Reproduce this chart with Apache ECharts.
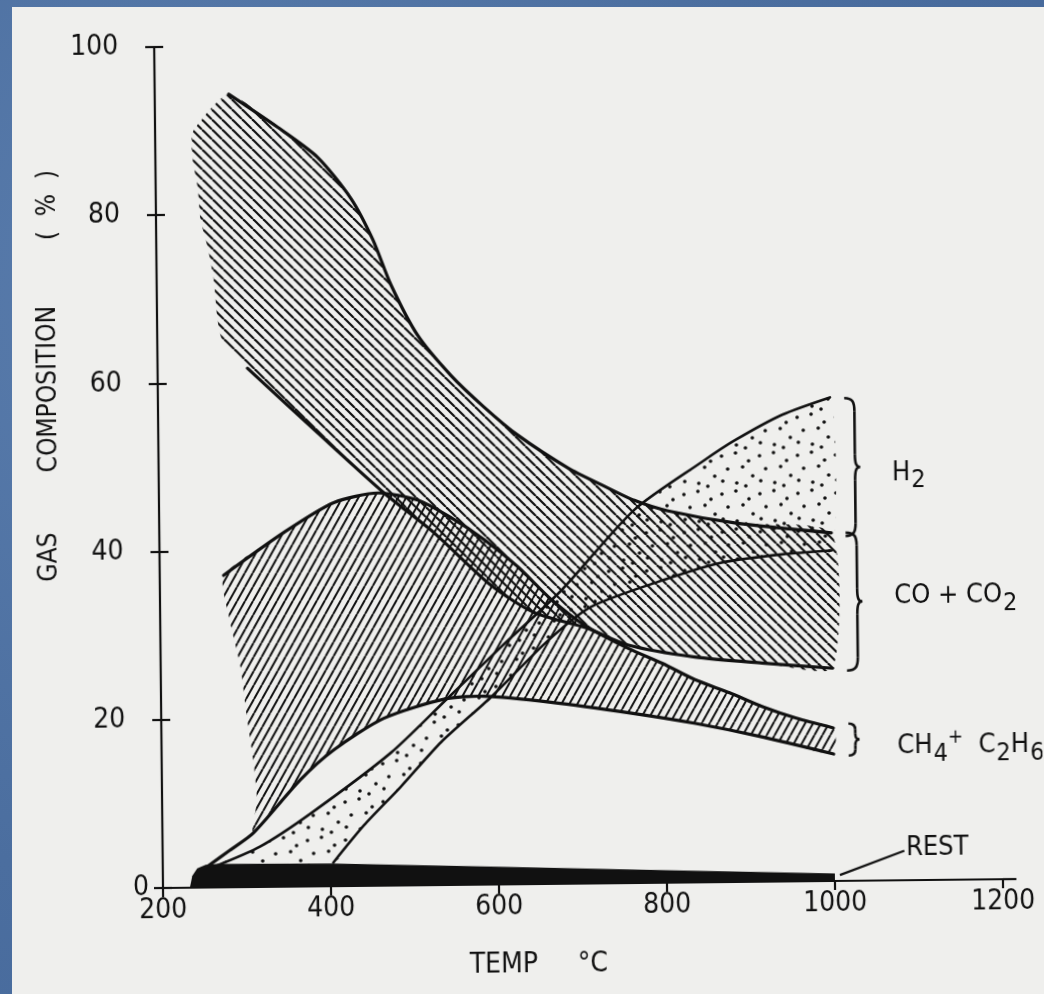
<!DOCTYPE html>
<html>
<head>
<meta charset="utf-8">
<title>Gas composition vs temperature</title>
<script src="https://cdn.jsdelivr.net/npm/echarts@6.0.0/dist/echarts.min.js"></script>
<style>
  html, body { margin:0; padding:0; width:1044px; height:994px; overflow:hidden;
    background: radial-gradient(circle at 20% 30%, #5a7dad 0%, #4b6e9f 55%, #44679a 100%); }
  #paper { position:absolute; left:12px; top:7px; right:0; bottom:0; background:#efefed; }
  #chart { position:absolute; left:0; top:0; width:1044px; height:994px;
    transform-origin:163px 888px; transform:rotate(-0.6deg); }
</style>
</head>
<body>
<div id="paper"></div>
<div id="chart"></div>
<script>
// ---------------- data: [temperature °C, gas composition %] ----------------
const xTicks = [200, 400, 600, 800, 1000, 1200];
const yTicks = [0, 20, 40, 60, 80, 100];

// CO + CO2 band
const coTop = [[288,94.3],[346,90.3],[393,86.7],[432,81.8],[458,76.8],[479,71.4],[510,65.4],[549,60.6],[588,56.8],[628,53.4],[688,49.4],[727,47.4],[766,45.5],[806,44.2],[885,42.7],[1000,41.4]];
const coBottom = [[307,61.7],[390,53.9],[468,46.7],[527,41.9],[594,35.6],[645,32.3],[707,30.4],[757,28.3],[836,26.8],[916,26.0],[1000,25.3]];
const coLeftEdge = [[277,65.2],[272,67.5],[268,72.2],[261,76.2],[253,79.4],[250,83.3],[244,86.9],[245,89.9]];

// CH4 + C2H6 band
const ch4Top = [[276,37.1],[348,42.1],[408,45.6],[461,46.7],[508,45.8],[547,43.7],[587,41.0],[627,37.7],[666,33.8],[707,30.6],[757,27.9],[797,26.1],[836,24.1],[877,22.5],[916,20.8],[956,19.4],[1000,18.2]];
const ch4Bottom = [[253,2.5],[280,4.4],[308,6.4],[365,12.7],[405,16.2],[465,19.9],[537,22.1],[585,22.4],[664,21.6],[760,20.2],[836,18.9],[916,17.2],[1000,15.1]];
const ch4LeftEdge = [[313,10.4],[309,15.1],[302,20.2],[295,26.2],[282,32.1]];

// H2 band
const h2Upper = [[262,2.5],[316,4.8],[377,8.7],[473,15.8],[539,22.0],[605,28.2],[678,34.9],[766,44.4],[847,50.0],[886,52.5],[943,55.5],[1000,57.5]];
const h2Lower = [[403,2.8],[440,7.2],[484,11.7],[533,17.0],[593,22.3],[662,29.0],[713,32.9],[806,36.2],[869,38.0],[941,38.9],[1000,39.3]];

// REST (black wedge)
const restTop = [[232,0],[235,1.4],[241,2.3],[251,2.7],[265,2.8],[400,2.7],[600,2.1],[800,1.5],[1000,0.9]];

// bracket spans at the right end (composition %)
const h2Span = [57.4, 41.0];
const coSpan = [41.4, 25.0];
const ch4Span = [18.7, 14.9];

// ---------------- styling helpers ----------------
const INK = '#111111';
const FONT = "'Liberation Sans Narrow','Arial Narrow','DejaVu Sans Condensed','Liberation Sans',sans-serif";

function hatch(w, h, lw, dir) {
  const c = document.createElement('canvas');
  c.width = w; c.height = h;
  const g = c.getContext('2d');
  g.strokeStyle = INK; g.lineWidth = lw;
  for (let k = -1; k <= 1; k++) {
    g.beginPath();
    if (dir === '/') { g.moveTo(k * w, h); g.lineTo(k * w + w, 0); }
    else { g.moveTo(k * w, 0); g.lineTo(k * w + w, h); }
    g.stroke();
  }
  return { image: c, repeat: 'repeat' };
}
function dotTile() {
  const s = 38;
  const c = document.createElement('canvas');
  c.width = s; c.height = s;
  const g = c.getContext('2d');
  g.fillStyle = INK;
  [[4,6],[18,3],[31,11],[10,19],[25,17],[35,26],[5,31],[19,33],[28,36]].forEach(p => {
    g.beginPath(); g.arc(p[0], p[1], 1.8, 0, Math.PI * 2); g.fill();
  });
  return { image: c, repeat: 'repeat' };
}
const coFill = hatch(10, 10, 2.2, '\\');
const ch4Fill = hatch(8, 14, 2.0, '/');
const h2Fill = dotTile();

function polygonSeries(name, pts, fill, z, smooth) {
  return {
    type: 'custom', name, coordinateSystem: 'cartesian2d', z, silent: true, clip: false,
    data: [pts[0]],
    renderItem: (params, api) => ({
      type: 'polygon',
      shape: { points: pts.map(p => api.coord(p)), smooth: smooth },
      style: { fill: fill, stroke: null }
    })
  };
}
function curveSeries(name, pts, width, z) {
  return {
    type: 'custom', name, coordinateSystem: 'cartesian2d', z, silent: true, clip: false,
    data: [pts[0]],
    renderItem: (params, api) => ({
      type: 'polyline',
      shape: { points: pts.map(p => api.coord(p)), smooth: 0.25 },
      style: { fill: null, stroke: INK, lineWidth: width, lineJoin: 'round', lineCap: 'round' }
    })
  };
}

const coPoly = coTop.concat(coBottom.slice().reverse(), coLeftEdge);
const ch4Poly = ch4Top.concat(ch4Bottom.filter(p => p[0] >= 308).reverse(), ch4LeftEdge);
const h2Poly = h2Upper.concat(h2Lower.slice().reverse());
const restPoly = restTop.concat([[1000, 0]]);

const chart = echarts.init(document.getElementById('chart'), null, { renderer: 'canvas' });
const step = xTicks[1] - xTicks[0];
const ystep = yTicks[1] - yTicks[0];

chart.setOption({
  animation: false,
  backgroundColor: 'transparent',
  grid: { left: 163, top: 47, width: 840, height: 841, containLabel: false },
  xAxis: {
    type: 'value', min: xTicks[0], max: xTicks[xTicks.length - 1], interval: step,
    axisLine: { lineStyle: { color: INK, width: 2.2 } },
    axisTick: { length: 9, lineStyle: { color: INK, width: 2.2 } },
    axisLabel: { color: INK, fontFamily: FONT, fontSize: 28, margin: 9, formatter: v => String(v) },
    splitLine: { show: false }
  },
  yAxis: [{
    type: 'value', min: yTicks[0], max: yTicks[yTicks.length - 1], interval: ystep,
    axisLine: { show: true, lineStyle: { color: INK, width: 2.2 } },
    axisTick: { length: 9, lineStyle: { color: INK, width: 2.2 } },
    axisLabel: { color: INK, fontFamily: FONT, fontSize: 28, margin: 36,
      formatter: v => (v === 0 ? '' : String(v)) },
    splitLine: { show: false }
  }, {
    type: 'value', min: yTicks[0], max: yTicks[yTicks.length - 1], interval: ystep, position: 'left',
    axisLine: { show: false },
    axisTick: { show: true, inside: true, length: 9, lineStyle: { color: INK, width: 2.2 } },
    axisLabel: { color: INK, fontFamily: FONT, fontSize: 28, margin: 14,
      formatter: v => (v === 0 ? '0' : '') },
    splitLine: { show: false }
  }],
  series: [
    polygonSeries('CO + CO2', coPoly, coFill, 2, 0.2),
    polygonSeries('CH4 + C2H6', ch4Poly, ch4Fill, 2, 0.2),
    polygonSeries('H2', h2Poly, h2Fill, 3, 0.2),
    polygonSeries('REST', restPoly, INK, 4, 0),
    curveSeries('CO + CO2 upper', coTop, 3.2, 5),
    curveSeries('CO + CO2 lower', coBottom, 3.2, 5),
    curveSeries('CH4 + C2H6 upper', ch4Top, 3.2, 5),
    curveSeries('CH4 + C2H6 lower', ch4Bottom, 3.2, 5),
    curveSeries('H2 upper', h2Upper, 2.6, 5),
    curveSeries('H2 lower', h2Lower, 2.6, 5)
  ]
});

// ---------------- annotations ----------------
function px(p) { return chart.convertToPixel({ gridIndex: 0 }, p); }
function brace(T0, Tsp, Ttip, span, r) {
  const x0 = px([T0, 0])[0], xs = px([Tsp, 0])[0], xt = px([Ttip, 0])[0];
  const yT = px([1000, span[0]])[1], yB = px([1000, span[1]])[1];
  const ym = (yT + yB) / 2;
  const st = { stroke: INK, lineWidth: 2.6, fill: null };
  return [
    { type: 'bezierCurve', shape: { x1: x0, y1: yT, cpx1: xs - 2, cpy1: yT, cpx2: xs, cpy2: yT + r * 0.3, x2: xs, y2: yT + r }, style: st, z: 10 },
    { type: 'line', shape: { x1: xs, y1: yT + r, x2: xs, y2: ym - r }, style: st, z: 10 },
    { type: 'bezierCurve', shape: { x1: xs, y1: ym - r, cpx1: xs, cpy1: ym - r * 0.3, cpx2: xs + (xt - xs) * 0.2, cpy2: ym, x2: xt, y2: ym }, style: st, z: 10 },
    { type: 'bezierCurve', shape: { x1: xt, y1: ym, cpx1: xs + (xt - xs) * 0.2, cpy1: ym, cpx2: xs, cpy2: ym + r * 0.3, x2: xs, y2: ym + r }, style: st, z: 10 },
    { type: 'line', shape: { x1: xs, y1: ym + r, x2: xs, y2: yB - r }, style: st, z: 10 },
    { type: 'bezierCurve', shape: { x1: xs, y1: yB - r, cpx1: xs, cpy1: yB - r * 0.3, cpx2: xs - 2, cpy2: yB, x2: x0, y2: yB }, style: st, z: 10 }
  ];
}
const rich = {
  n: { fontFamily: FONT, fontSize: 27, fill: INK, color: INK, verticalAlign: 'top', padding: [5, 0, 0, 0] },
  s: { fontFamily: FONT, fontSize: 25, fill: INK, color: INK, verticalAlign: 'top', padding: [14, 0, 0, 1] },
  p: { fontFamily: FONT, fontSize: 20, fill: INK, color: INK, verticalAlign: 'top', padding: [0, 0, 0, 0] }
};
function label(pos, text, dy) {
  const p = px(pos);
  return { type: 'text', x: p[0], y: p[1] + (dy || 0), z: 10,
    style: { text: text, rich: rich, fontFamily: FONT, fontSize: 27, fill: INK, align: 'left', verticalAlign: 'middle' } };
}
const a0 = px([xTicks[xTicks.length - 1], 0]);
const a1 = px([1216, 0]);
const lead0 = px([1006, 0.7]), lead1 = px([1083, 3.5]);
const restPos = px([1085, 3.8]);

const graphics = [].concat(
  brace(1017, 1029, 1035, h2Span, 13),
  brace(1017, 1030, 1036, coSpan, 13),
  brace(1018, 1026, 1031, ch4Span, 6),
  [
    label([1073, 48.9], '{n|H}{s|2}', 5),
    label([1074, 34.2], '{n|CO + CO}{s|2}', 5),
    label([1076, 16.4], '{n|CH}{s|4}{p|+}{n|  C}{s|2}{n|H}{s|6}', 5),
    { type: 'text', x: restPos[0], y: restPos[1], z: 10,
      style: { text: 'REST', fontFamily: FONT, fontSize: 27, fill: INK, align: 'left', verticalAlign: 'middle' } },
    { type: 'line', shape: { x1: lead0[0], y1: lead0[1], x2: lead1[0], y2: lead1[1] }, style: { stroke: INK, lineWidth: 2.2 }, z: 10 },
    { type: 'line', shape: { x1: a0[0], y1: a0[1], x2: a1[0], y2: a1[1] }, style: { stroke: INK, lineWidth: 2.2 }, z: 10 },
    { type: 'text', x: 503, y: 969, z: 10,
      style: { text: 'TEMP', fontFamily: FONT, fontSize: 28, fill: INK, align: 'center', verticalAlign: 'middle' } },
    { type: 'text', x: 592, y: 969, z: 10,
      style: { text: '°C', fontFamily: FONT, fontSize: 28, fill: INK, align: 'center', verticalAlign: 'middle' } },
    { type: 'text', x: 53, y: 556, rotation: Math.PI / 2, z: 10,
      style: { text: 'GAS', fontFamily: FONT, fontSize: 26, fill: INK, align: 'center', verticalAlign: 'middle' } },
    { type: 'text', x: 54, y: 388, rotation: Math.PI / 2, z: 10,
      style: { text: 'COMPOSITION', fontFamily: FONT, fontSize: 26, fill: INK, align: 'center', verticalAlign: 'middle' } },
    { type: 'text', x: 55, y: 204, rotation: Math.PI / 2, z: 10,
      style: { text: '(  %  )', fontFamily: FONT, fontSize: 26, fill: INK, align: 'center', verticalAlign: 'middle' } }
  ]
);
chart.setOption({ graphic: graphics });
</script>
</body>
</html>
